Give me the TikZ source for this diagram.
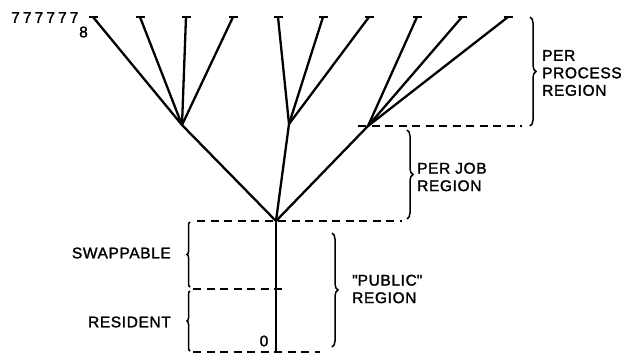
\documentclass[tikz,border=0pt]{standalone}
\usepackage{fontspec}
\setmainfont[FakeBold=1.6, LetterSpace=4]{Liberation Sans}
\usetikzlibrary{decorations.pathreplacing}
\begin{document}
\begin{tikzpicture}[x=1pt,y=-1pt,
  branch/.style={line width=2.3pt},
  leafbar/.style={line width=1.4pt},
  sep/.style={line width=1.3pt, dash pattern=on 8pt off 5.5pt},
  bracket/.style={line width=1.5pt, decorate, decoration={brace, amplitude=6pt}},
  lbl/.style={font=\fontsize{15.5}{17.5}\selectfont, align=left, inner sep=0pt},
  lblr/.style={font=\fontsize{15.5}{17.5}\selectfont, align=right, inner sep=0pt}]
\useasboundingbox (0,0) rectangle (621,354);

% leaves along the top
\foreach \n/\x in {1/93,2/140,3/186,4/233,5/278,6/323,7/369,8/417,9/462,10/508}{
  \coordinate (L\n) at (\x,17);
  \draw[leafbar] ([xshift=-4.5pt]L\n) -- ([xshift=4.5pt]L\n);
}
% branching points
\coordinate (J1) at (182,125);
\coordinate (J2) at (289,124);
\coordinate (J3) at (368,126);
\coordinate (R)  at (276,221);
\coordinate (Z)  at (276,352);

\foreach \n in {1,2,3,4} \draw[branch] (J1) -- (L\n);
\foreach \n in {5,6,7} \draw[branch] (J2) -- (L\n);
\foreach \n in {8,9,10} \draw[branch] (J3) -- (L\n);
\draw[branch] (R) -- (J1);
\draw[branch] (R) -- (J2);
\draw[branch] (R) -- (J3);
\draw[branch] (R) -- (Z);

% region boundaries
\coordinate (pa) at (358,126); \coordinate (pb) at (522,126);
\coordinate (ja) at (197,221); \coordinate (jb) at (402,221);
\coordinate (ma) at (193,289); \coordinate (mb) at (283,289);
\coordinate (ba) at (193,352); \coordinate (bb) at (320,352);
\draw[sep] (pa) -- (pb);
\draw[sep] (ja) -- (jb);
\draw[sep] (ma) -- (mb);
\draw[sep] (ba) -- (bb);

% braces
\draw[bracket] (530,17) -- (530,126);
\draw[bracket] (407,130) -- (407,219);
\draw[bracket] (332,233) -- (332,347);
\draw[bracket, decoration={brace, amplitude=3pt}] (190,287) -- (190,222);
\draw[bracket, decoration={brace, amplitude=3pt}] (190,351) -- (190,291);

% labels
\node[lbl, anchor=west] (proc) at (542,73) {PER\\PROCESS\\REGION};
\node[lbl, anchor=west] (job) at (417,177) {PER JOB\\REGION};
\node[lbl, anchor=west] (pub) at (352,289) {\textquotedbl PUBLIC\textquotedbl\\REGION};
\node[lblr, anchor=east] (swap) at (171,253) {SWAPPABLE};
\node[lblr, anchor=east] (res) at (171,322) {RESIDENT};
\node[lbl] (zero) at (264,341) {0};
\node[lbl, anchor=west, font=\fontsize{15.5}{17.5}\selectfont\addfontfeature{LetterSpace=20}] (top) at (11,17.5) {777777};
\node[lbl] (base) at (83.5,32) {8};
\end{tikzpicture}
\end{document}
